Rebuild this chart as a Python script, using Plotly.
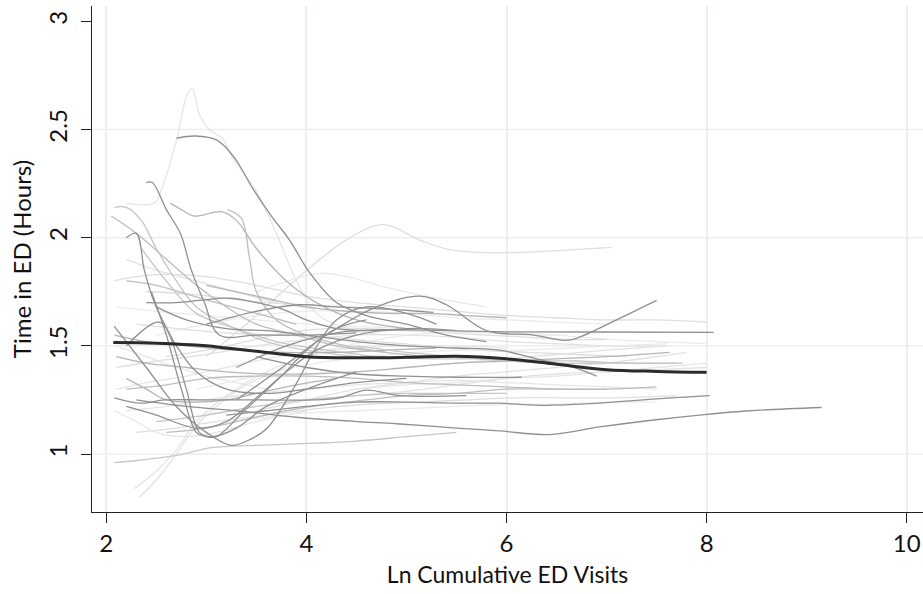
import plotly.graph_objects as go

# ---------------- data ----------------
mean_x = [2.07, 2.5, 3.0, 3.2, 3.5, 4.0, 4.5, 5.0, 5.5, 6.0, 6.5, 7.0, 7.5, 8.0]
mean_y = [1.515, 1.512, 1.50, 1.49, 1.475, 1.45, 1.445, 1.447, 1.452, 1.44, 1.415, 1.39, 1.382, 1.378]

dark_x = [
    [2.70, 2.89, 3.11, 3.28, 3.46, 3.65, 3.83, 4.03, 4.3, 4.6, 5.0, 5.4, 5.8],
    [2.40, 2.46, 2.60, 2.74, 2.85, 2.98, 3.13, 3.5, 4.0, 4.5],
    [2.20, 2.30, 2.38, 2.48, 2.65, 2.80, 2.93, 3.05, 3.3, 3.6, 4.0, 4.5],
    [2.08, 2.4, 2.7, 3.0, 3.25, 3.45, 3.61, 3.88, 4.08, 4.3, 4.6, 5.0, 5.3],
    [2.45, 2.6, 2.75, 2.9, 3.0, 3.1, 3.38, 3.75, 4.0, 4.3, 4.6],
    [2.08, 2.35, 2.58, 3.0, 3.5, 4.08, 4.33, 4.6, 4.93, 5.6],
    [2.3, 2.8, 3.3, 3.9, 4.5, 4.9, 5.5, 5.93, 6.43, 6.93, 7.43, 7.93, 8.43, 9.15],
    [3.2, 3.6, 4.0, 4.5, 5.0, 5.5, 5.93, 6.33, 6.93, 7.5, 8.03],
    [3.3, 3.8, 4.3, 4.8, 5.4, 6.0, 6.93, 8.07],
    [3.3, 3.7, 4.2, 4.7, 5.13, 5.4, 5.8, 6.27, 6.6, 6.7, 7.1, 7.5],
    [2.5, 2.8, 3.2, 3.6, 4.0, 4.5, 5.0, 5.5, 5.93, 6.3, 6.67, 6.9],
    [3.5, 4.0, 4.5, 5.0, 5.5, 6.15],
    [2.2, 2.5, 2.9, 3.2, 3.5, 3.8, 4.1, 4.5, 5.0, 5.5],
    [2.2, 2.53, 2.7, 2.9, 3.2, 3.6, 4.0, 4.5, 5.0],
    [2.40, 2.7, 2.93, 3.23, 3.5, 3.76, 4.0, 4.3, 4.7, 5.1],
    [3.0, 3.5, 3.93, 4.3, 4.8, 5.27],
]
dark_y = [
    [2.46, 2.47, 2.45, 2.37, 2.23, 2.10, 1.99, 1.84, 1.70, 1.64, 1.60, 1.55, 1.52],
    [2.255, 2.255, 2.13, 2.02, 1.85, 1.70, 1.55, 1.55, 1.55, 1.56],
    [2.00, 2.02, 1.85, 1.70, 1.53, 1.30, 1.10, 1.08, 1.12, 1.22, 1.30, 1.38],
    [1.59, 1.40, 1.22, 1.10, 1.04, 1.07, 1.12, 1.31, 1.48, 1.62, 1.68, 1.65, 1.60],
    [1.75, 1.55, 1.30, 1.10, 1.08, 1.08, 1.20, 1.36, 1.48, 1.58, 1.62],
    [1.26, 1.235, 1.25, 1.25, 1.25, 1.25, 1.26, 1.295, 1.27, 1.27],
    [1.25, 1.22, 1.20, 1.17, 1.15, 1.14, 1.12, 1.107, 1.09, 1.125, 1.155, 1.18, 1.20, 1.215],
    [1.18, 1.20, 1.22, 1.24, 1.24, 1.235, 1.235, 1.225, 1.235, 1.255, 1.27],
    [1.40, 1.50, 1.56, 1.575, 1.57, 1.565, 1.564, 1.562],
    [1.25, 1.38, 1.55, 1.68, 1.73, 1.69, 1.57, 1.55, 1.525, 1.535, 1.62, 1.71],
    [1.68, 1.62, 1.58, 1.57, 1.55, 1.52, 1.50, 1.49, 1.48, 1.44, 1.40, 1.36],
    [1.45, 1.40, 1.37, 1.36, 1.355, 1.355],
    [1.22, 1.18, 1.12, 1.15, 1.26, 1.38, 1.48, 1.55, 1.58, 1.57],
    [1.50, 1.61, 1.50, 1.38, 1.30, 1.28, 1.30, 1.33, 1.35],
    [1.70, 1.70, 1.71, 1.72, 1.70, 1.67, 1.62, 1.58, 1.57, 1.58],
    [1.60, 1.66, 1.69, 1.68, 1.67, 1.655],
]

mid_x = [
    [2.05, 2.3, 2.6, 2.9, 3.2, 3.5, 3.9, 4.3, 4.8],
    [2.08, 2.2, 2.35, 2.5, 2.7, 2.9, 3.2, 3.6, 4.0, 4.5],
    [2.64, 2.75, 2.88, 3.15, 3.3, 3.5, 3.8, 4.1, 4.5, 5.0],
    [3.21, 3.35, 3.43, 3.5, 3.7, 4.0, 4.4, 4.8, 5.2],
    [2.35, 2.6, 2.9, 3.3, 3.7, 4.2, 4.7, 5.2, 5.7, 6.2, 6.7, 7.2, 7.7],
    [2.1, 2.4, 2.8, 3.2, 3.6, 4.0, 4.5, 5.0, 5.5, 6.0, 6.5, 7.0, 7.63],
    [2.2, 2.6, 3.0, 3.5, 4.0, 4.5, 5.0, 5.5, 6.0, 6.5, 7.0, 7.5],
    [2.5, 3.0, 3.5, 4.0, 4.5, 5.0, 5.5, 6.0],
    [2.08, 2.4, 2.8, 3.3, 3.8, 4.3, 4.8, 5.3],
    [2.6, 3.0, 3.4, 3.8, 4.2, 4.6, 5.0, 5.5, 6.0, 6.5, 7.0],
    [2.08, 2.31, 2.72, 3.05, 3.5, 4.08, 4.5, 5.0, 5.5],
    [3.0, 3.3, 3.6, 4.0, 4.4, 4.8, 5.2, 5.6, 6.0],
    [2.2, 2.5, 2.8, 3.1, 3.5, 3.9],
    [4.5, 5.0, 5.5, 6.0, 6.5, 7.0, 7.76],
    [2.2, 2.4, 2.6, 2.9, 3.2, 3.5, 3.9, 4.3],
]
mid_y = [
    [2.10, 2.02, 1.90, 1.78, 1.68, 1.60, 1.55, 1.50, 1.47],
    [2.14, 2.14, 2.08, 1.95, 1.80, 1.68, 1.60, 1.52, 1.48, 1.45],
    [2.16, 2.13, 2.10, 2.12, 2.08, 1.95, 1.80, 1.70, 1.62, 1.58],
    [2.13, 2.09, 1.91, 1.75, 1.62, 1.55, 1.50, 1.47, 1.45],
    [1.95, 1.80, 1.65, 1.58, 1.52, 1.48, 1.45, 1.44, 1.44, 1.43, 1.43, 1.42, 1.42],
    [1.45, 1.42, 1.40, 1.38, 1.37, 1.37, 1.38, 1.40, 1.42, 1.43, 1.44, 1.45, 1.47],
    [1.30, 1.32, 1.35, 1.36, 1.36, 1.35, 1.33, 1.32, 1.31, 1.30, 1.30, 1.31],
    [1.15, 1.18, 1.22, 1.25, 1.27, 1.28, 1.28, 1.28],
    [1.55, 1.52, 1.50, 1.48, 1.47, 1.47, 1.48, 1.49],
    [1.10, 1.12, 1.16, 1.20, 1.23, 1.25, 1.27, 1.28, 1.30, 1.30, 1.30],
    [0.96, 0.97, 0.995, 1.03, 1.04, 1.05, 1.06, 1.08, 1.10],
    [1.78, 1.75, 1.72, 1.68, 1.66, 1.65, 1.65, 1.64, 1.63],
    [1.80, 1.78, 1.74, 1.70, 1.65, 1.60],
    [1.50, 1.47, 1.45, 1.43, 1.42, 1.42, 1.42],
    [1.35, 1.30, 1.25, 1.24, 1.25, 1.28, 1.32, 1.35],
]

light_x = [
    [2.2, 2.48, 2.55, 2.71, 2.80, 2.86, 2.93, 3.03, 3.16, 3.26, 3.48, 3.7, 3.9, 4.1, 4.4, 4.8],
    [3.0, 3.4, 3.93, 4.4, 4.77, 5.13, 5.43, 6.0, 6.5, 7.05],
    [3.5, 4.13, 4.4, 4.8, 5.3, 5.8],
    [2.33, 2.5, 2.7, 2.88, 3.1, 3.4, 3.8],
    [2.28, 2.5, 2.7, 2.9, 3.2, 3.6, 4.0, 4.5],
    [2.08, 2.3, 2.6, 3.0, 3.5, 4.0, 4.5, 5.0, 5.5, 6.0, 6.5, 7.0, 7.5, 8.0],
    [2.1, 2.5, 3.0, 3.5, 4.0, 4.5, 5.0, 5.5, 6.0, 6.5, 7.0, 7.5, 8.0],
    [2.1, 2.5, 3.0, 3.5, 4.0, 4.5, 5.0, 5.5, 6.0, 6.5, 7.0, 7.5],
    [2.2, 2.6, 3.0, 3.5, 4.0, 4.5, 5.0, 5.5, 6.0, 6.5, 7.0, 7.5],
    [2.3, 2.7, 3.1, 3.6, 4.1, 4.6, 5.1, 5.6, 6.1, 6.6, 7.1, 7.7],
    [2.5, 3.0, 3.5, 4.0, 4.5, 5.0, 5.5, 6.0, 6.5, 7.0],
    [3.5, 4.0, 4.5, 5.0, 5.5, 6.0, 6.5, 7.0, 7.5, 7.8],
    [2.1, 2.4, 2.8, 3.2, 3.6, 4.0, 4.5, 5.0, 5.5, 6.0],
    [2.3, 2.7, 3.2, 3.7, 4.2, 4.7, 5.2, 5.7, 6.2, 6.7, 7.2],
    [2.9, 3.3, 3.7, 4.1, 4.6, 5.1, 5.6, 6.1, 6.6, 7.1, 7.6],
    [4.0, 4.5, 5.0, 5.5, 6.0, 6.5, 7.0, 7.5, 8.0],
    [2.08, 2.3, 2.5, 2.8, 3.1, 3.5, 4.0],
    [2.4, 2.8, 3.2, 3.6, 4.0, 4.4, 4.8, 5.2],
    [3.2, 3.6, 4.0, 4.5, 5.0, 5.5, 6.0, 6.5, 7.0, 7.5],
    [5.0, 5.5, 6.0, 6.5, 7.0, 7.6],
    [2.1, 2.4, 2.7, 3.0, 3.3, 3.6],
    [2.6, 3.0, 3.4, 3.8, 4.2, 4.6, 5.0, 5.4, 5.8, 6.2, 6.6, 7.0],
    [3.8, 4.2, 4.6, 5.0, 5.4, 5.8, 6.2, 6.6],
    [2.2, 2.5, 2.9, 3.3, 3.7, 4.1],
    [4.5, 5.0, 5.5, 6.0, 6.5, 7.0, 7.5, 8.0],
]
light_y = [
    [2.16, 2.16, 2.22, 2.465, 2.65, 2.69, 2.57, 2.50, 2.46, 2.37, 2.23, 2.02, 1.80, 1.65, 1.58, 1.55],
    [1.45, 1.60, 1.82, 1.99, 2.06, 1.99, 1.945, 1.93, 1.94, 1.955],
    [1.75, 1.835, 1.82, 1.77, 1.72, 1.68],
    [0.80, 0.88, 1.00, 1.12, 1.22, 1.32, 1.40],
    [0.84, 0.92, 1.02, 1.15, 1.27, 1.38, 1.45, 1.50],
    [1.80, 1.82, 1.83, 1.82, 1.78, 1.73, 1.70, 1.68, 1.66, 1.64, 1.63, 1.62, 1.62, 1.61],
    [1.68, 1.66, 1.64, 1.62, 1.60, 1.59, 1.58, 1.57, 1.56, 1.55, 1.53, 1.52, 1.51],
    [1.40, 1.43, 1.46, 1.50, 1.53, 1.55, 1.55, 1.54, 1.52, 1.51, 1.50, 1.50],
    [1.20, 1.22, 1.25, 1.28, 1.30, 1.32, 1.33, 1.34, 1.33, 1.32, 1.31, 1.30],
    [1.10, 1.12, 1.15, 1.18, 1.21, 1.23, 1.24, 1.25, 1.26, 1.26, 1.26, 1.27],
    [1.55, 1.60, 1.64, 1.66, 1.66, 1.65, 1.63, 1.62, 1.61, 1.60],
    [1.20, 1.25, 1.30, 1.33, 1.36, 1.38, 1.40, 1.42, 1.45, 1.47],
    [1.30, 1.33, 1.36, 1.40, 1.44, 1.47, 1.49, 1.50, 1.50, 1.49],
    [1.60, 1.58, 1.56, 1.55, 1.54, 1.52, 1.50, 1.48, 1.47, 1.46, 1.45],
    [1.30, 1.34, 1.38, 1.42, 1.45, 1.47, 1.48, 1.48, 1.49, 1.50, 1.51],
    [1.25, 1.27, 1.29, 1.32, 1.35, 1.37, 1.38, 1.39, 1.40],
    [1.20, 1.15, 1.10, 1.08, 1.10, 1.15, 1.20],
    [1.75, 1.74, 1.72, 1.70, 1.69, 1.68, 1.67, 1.66],
    [1.15, 1.17, 1.19, 1.20, 1.21, 1.22, 1.23, 1.23, 1.24, 1.24],
    [1.40, 1.42, 1.44, 1.46, 1.48, 1.50],
    [1.50, 1.45, 1.40, 1.36, 1.33, 1.30],
    [1.45, 1.48, 1.52, 1.56, 1.58, 1.58, 1.57, 1.56, 1.55, 1.54, 1.53, 1.53],
    [1.42, 1.48, 1.52, 1.55, 1.56, 1.56, 1.55, 1.55],
    [1.90, 1.85, 1.80, 1.75, 1.70, 1.67],
    [1.30, 1.32, 1.33, 1.35, 1.36, 1.38, 1.40, 1.42],
]

x_ticks = [2, 4, 6, 8, 10]
y_ticks = [1, 1.5, 2, 2.5, 3]
y_grid = [1, 1.5, 2, 2.5]
x_title = "Ln Cumulative ED Visits"
y_title = "Time in ED (Hours)"

# ---------------- figure ----------------
fig = go.Figure()
light_cols = ["#e6e6e6", "#dedede", "#ebebeb", "#e2e2e2"]
for i, (xs, ys) in enumerate(zip(light_x, light_y)):
    fig.add_trace(go.Scatter(x=xs, y=ys, mode="lines", line=dict(color=light_cols[i % 4], width=1.3, shape="spline"),
                             hoverinfo="skip", showlegend=False))
mid_cols = ["#bdbdbd", "#c6c6c6", "#b5b5b5"]
for i, (xs, ys) in enumerate(zip(mid_x, mid_y)):
    fig.add_trace(go.Scatter(x=xs, y=ys, mode="lines", line=dict(color=mid_cols[i % 3], width=1.3, shape="spline"),
                             hoverinfo="skip", showlegend=False))
for xs, ys in zip(dark_x, dark_y):
    fig.add_trace(go.Scatter(x=xs, y=ys, mode="lines", line=dict(color="#909090", width=1.3, shape="spline"),
                             hoverinfo="skip", showlegend=False))
fig.add_trace(go.Scatter(x=mean_x, y=mean_y, mode="lines", line=dict(color="#2b2b2b", width=3, shape="spline"),
                         hoverinfo="skip", showlegend=False))

# horizontal grid lines (no grid line at the top tick)
for gy in y_grid:
    fig.add_shape(type="line", xref="paper", x0=0, x1=1, yref="y", y0=gy, y1=gy,
                  line=dict(color="#e8f0f2", width=1.5), layer="below")

font_family = "Lato, 'DejaVu Sans', sans-serif"
fig.update_layout(
    width=923, height=594,
    margin=dict(l=92, r=0, t=6, b=82),
    paper_bgcolor="white", plot_bgcolor="white",
    font=dict(family=font_family, size=20, color="#111"),
    showlegend=False,
)
fig.update_xaxes(
    range=[1.857, 10.163], tickvals=x_ticks, ticktext=[str(v) for v in x_ticks],
    tickfont=dict(size=24),
    showgrid=True, gridcolor="#e8f0f2", gridwidth=1.5,
    showline=True, linecolor="#222", linewidth=1.3,
    ticks="outside", ticklen=10, tickcolor="#222", tickwidth=1.3,
    zeroline=False, title=dict(text=x_title, standoff=10, font=dict(size=23)), automargin=False,
)
fig.update_yaxes(
    range=[0.732, 3.071], tickvals=y_ticks, ticktext=["1", "1.5", "2", "2.5", "3"], tickangle=-90,
    tickfont=dict(size=24), ticklabelstandoff=4,
    showgrid=False,
    showline=True, linecolor="#222", linewidth=1.3,
    ticks="outside", ticklen=10, tickcolor="#222", tickwidth=1.3,
    zeroline=False, title=dict(text=y_title, standoff=4, font=dict(size=24)), automargin=False,
)

fig.write_html("out.html", config={"displayModeBar": False},
               post_script="document.body.style.margin='0px';document.body.style.overflow='hidden';")
